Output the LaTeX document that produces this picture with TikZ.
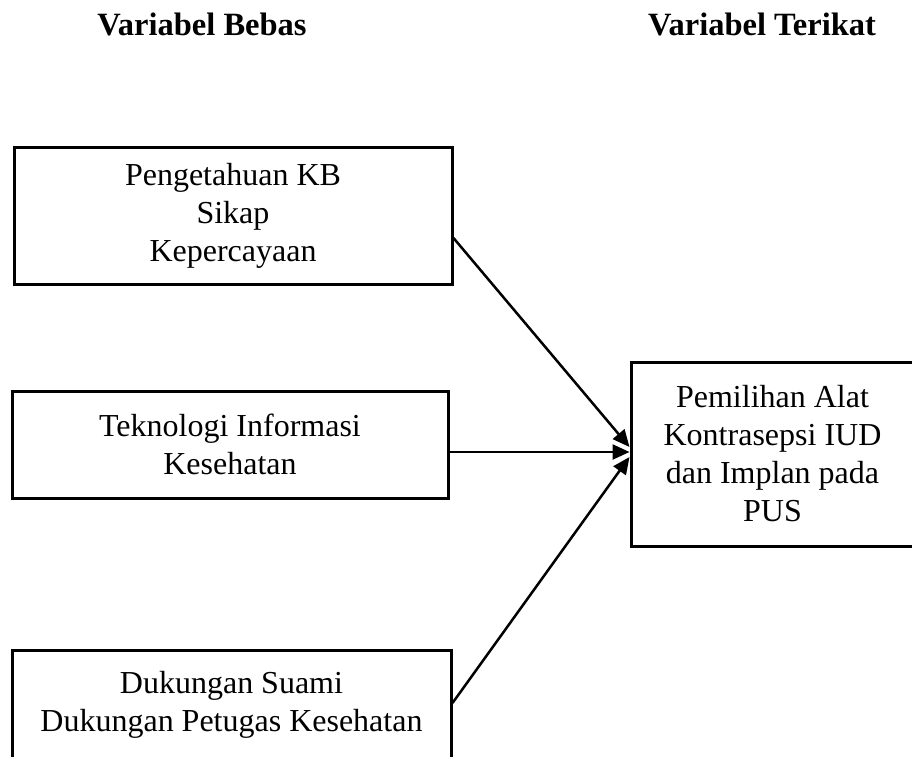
\documentclass[tikz,border=0pt]{standalone}
\usepackage{fontspec}
\setmainfont{Liberation Serif}
\usetikzlibrary{arrows.meta}
\begin{document}
\begin{tikzpicture}[x=1pt,y=-1pt,
	kotak/.style={draw,line width=3pt,align=center,inner sep=0pt,font=\fontsize{32}{38}\selectfont},
	judul/.style={anchor=base,font=\fontsize{32.5}{38}\selectfont\bfseries},
	panah/.style={line width=2.5pt,-{Triangle[length=17pt,width=15pt]}}]
				\useasboundingbox (0,0) rectangle (912,756);
				\node[judul] (bebas) at (202,35) {Variabel Bebas};
				\node[judul] (terikat) at (762,35) {Variabel Terikat};
				\node[kotak,minimum width=438pt,minimum height=137pt] (tahu) at (233,215.5) {Pengetahuan KB\\Sikap\\Kepercayaan};
				\node[kotak,minimum width=436pt,minimum height=107pt] (tekno) at (230,444.5) {Teknologi Informasi\\Kesehatan};
				\node[kotak,minimum width=439pt,anchor=north,inner ysep=21pt,text depth=12pt] (dukung) at (231.5,649) {Dukungan Suami\\Dukungan Petugas Kesehatan};
				\node[kotak,minimum width=283pt,minimum height=184pt] (pilih) at (772.5,454) {Pemilihan Alat\\Kontrasepsi IUD\\dan Implan pada\\PUS};
				\draw[panah] ([yshift=-22.5pt]tahu.east) -- ([yshift=7pt]pilih.west);
				\draw[panah] ([yshift=-7.5pt]tekno.east) -- ([yshift=2pt]pilih.west);
				\draw[panah] ([yshift=-54pt]dukung.north east) -- ([yshift=-3pt]pilih.west);
\end{tikzpicture}
\end{document}
